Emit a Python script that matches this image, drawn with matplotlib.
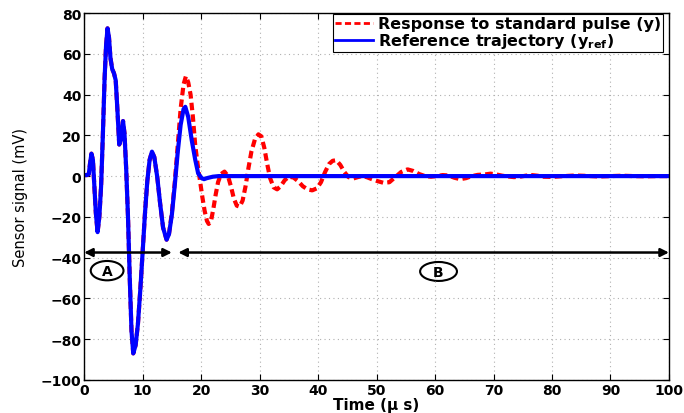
import numpy as np
import matplotlib
matplotlib.use("Agg")
import matplotlib.pyplot as plt
from matplotlib.patches import Ellipse
from matplotlib.lines import Line2D

# Reference trajectory (blue)
blue_t = [0, 0.5, 0.8, 1.0, 1.25, 1.5, 1.75, 2.0, 2.3, 2.6, 2.9, 3.2, 3.5, 3.75, 4.0,
          4.25, 4.5, 4.8, 5.1, 5.4, 5.7, 6.0, 6.3, 6.65, 6.9, 7.2, 7.5, 7.8, 8.1, 8.4,
          8.8, 9.2, 9.6, 10.0, 10.4, 10.8, 11.2, 11.6, 12.0, 12.5, 13.0, 13.5, 14.1,
          14.5, 15.0, 15.5, 16.0, 16.5, 17.0, 17.3, 17.8, 18.4, 19.0, 19.5, 20.1, 20.5,
          21.0, 22.0, 23.0, 100]
blue_v = [0.5, 0.5, 1, 6, 11, 8, -5, -18, -27.5, -20, -5, 20, 48, 64, 72.5,
          68, 58, 52.5, 50.5, 47, 32, 15.5, 18, 27, 21, 3, -20, -50, -76, -87,
          -83, -72.5, -56, -37.5, -18.5, -2.5, 8, 12, 9.3, -0.4, -13.6, -25.3, -31.2,
          -28.6, -19, -4.4, 11.6, 25.1, 32.9, 34, 29, 17.6, 8, 1.3, -1.0, -1.5,
          -1.0, -0.3, 0, 0]

# Response to standard pulse (red) - identical to blue up to 14.5 us, then:
red_tail_t = [15.0, 15.5, 16.0, 16.5, 17.0, 17.4, 17.8, 18.2, 18.6, 19.0, 19.4, 19.8,
              20.2, 20.6, 21.0, 21.3, 21.7, 22.1, 22.5, 22.9, 23.4, 24.0, 24.6, 25.1,
              25.6, 26.1, 26.6, 27.1, 27.6, 28.1, 28.6, 29.2, 29.8, 30.3, 30.8, 31.3,
              31.8, 32.4, 33.0, 33.6, 34.3, 35.0, 35.8, 36.6, 37.4, 38.2, 39.0, 39.8,
              40.5, 41.2, 41.9, 42.5, 43.1, 43.8, 44.5, 45.2, 46.0, 46.8, 47.5, 48.3,
              49.2, 50.2, 51.2, 52.2, 53.2, 54.2, 55.3, 56.3, 57.3, 58.3, 59.3, 60.3,
              61.3, 62.3, 63.3, 64.3, 65.3, 66.3, 67.3, 68.5, 69.5, 70.5, 71.5, 72.5,
              73.5, 74.5, 75.5, 76.5, 77.5, 78.5, 80, 82, 84, 86, 88, 90, 92, 94, 96,
              98, 100]
red_tail_v = [-18, -3, 15, 33, 45, 49, 46, 40, 29, 15, 6, -2,
              -10, -17, -22, -23.5, -22, -16, -9, -3, 1, 2.2, 0, -5,
              -11, -14.5, -15, -12, -5, 4, 12, 18, 20.5, 19.5, 14, 6,
              -1, -5.5, -6.5, -5, -2, -0.3, -0.7, -2.5, -5, -6.5, -7, -6,
              -3, 2, 6, 7.5, 7.8, 5.5, 2, -0.5, -1.2, -0.5, 0, -0.5,
              -1.5, -2.5, -3.3, -3, -0.5, 2, 3.3, 2.5, 1, 0, -0.3, 0,
              0.5, 0.3, -0.8, -1.5, -1, 0, 0.6, 0.8, 1.2, 0.8, 0.2, -0.2,
              -0.5, -0.3, 0.2, 0.5, 0.2, -0.3, -0.4, 0, 0.3, 0.1, -0.2, 0, 0.2,
              0, -0.1, 0, 0]
red_split = 14.5

x_ticks = [0, 10, 20, 30, 40, 50, 60, 70, 80, 90, 100]
y_ticks = [-100, -80, -60, -40, -20, 0, 20, 40, 60, 80]

label_red = "Response to standard pulse (y)"
label_blue = r"Reference trajectory (y$_{\mathbf{ref}}$)"

bt = np.array(blue_t)
bv = np.array(blue_v)
mask = bt <= red_split
red_t = np.concatenate([bt[mask], red_tail_t])
red_v = np.concatenate([bv[mask], red_tail_v])

plt.rcParams['font.family'] = ['DejaVu Sans']
plt.rcParams['mathtext.fontset'] = 'custom'
plt.rcParams['mathtext.rm'] = 'DejaVu Sans:bold'
plt.rcParams['mathtext.bf'] = 'DejaVu Sans:bold'
plt.rcParams['mathtext.it'] = 'DejaVu Sans:bold'

fig = plt.figure(figsize=(6.84, 4.14), dpi=100)
ax = fig.add_axes([0.123, 0.080, 0.855, 0.886])

ax.plot(red_t, red_v, color='#ff0000', lw=3.0, dashes=(1.8, 1.0),
        solid_capstyle='round', solid_joinstyle='round')
ax.plot(bt, bv, color='#0000ff', lw=3.0, solid_joinstyle='round')

ax.set_xlim(0, 100)
ax.set_ylim(-100, 80)
ax.set_xticks(x_ticks)
ax.set_yticks(y_ticks)
ax.tick_params(direction='in', top=True, right=True, length=4, width=0.8,
               labelsize=10, pad=2)
for lab in ax.get_xticklabels() + ax.get_yticklabels():
    lab.set_fontweight('bold')
ax.grid(True, color='#b0b0b0', linestyle=(0, (1, 3)), lw=0.8)
for sp in ax.spines.values():
    sp.set_color('black')
    sp.set_linewidth(1.0)

ax.set_xlabel("Time (\u03bc s)", fontsize=11, fontweight='bold', labelpad=0)
ax.set_ylabel("Sensor signal (mV)", fontsize=10.5, labelpad=9)

# region arrows
ax.annotate('', xy=(0, -37.5), xytext=(15.0, -37.5),
            arrowprops=dict(arrowstyle='<|-|>', color='black', lw=1.8,
                            mutation_scale=12, shrinkA=0, shrinkB=0),
            annotation_clip=False)
ax.annotate('', xy=(16.1, -37.5), xytext=(100, -37.5),
            arrowprops=dict(arrowstyle='<|-|>', color='black', lw=1.8,
                            mutation_scale=12, shrinkA=0, shrinkB=0),
            annotation_clip=False)

ax.add_patch(Ellipse((3.93, -46.4), 5.6, 9.5, fill=False, ec='black', lw=1.5))
ax.text(3.93, -46.6, 'A', ha='center', va='center', fontsize=10, fontweight='bold')
ax.add_patch(Ellipse((60.6, -46.8), 6.3, 9.3, fill=False, ec='black', lw=1.5))
ax.text(60.6, -47.0, 'B', ha='center', va='center', fontsize=10, fontweight='bold')

handles = [Line2D([], [], color='#ff0000', lw=2.0, dashes=(2.2, 1.2)),
           Line2D([], [], color='#0000ff', lw=2.0)]
leg = ax.legend(handles, [label_red, label_blue], loc='upper right',
                bbox_to_anchor=(0.99, 0.997), fancybox=False,
                framealpha=1, edgecolor='black',
                prop={'weight': 'bold', 'size': 11.5}, handlelength=2.4,
                borderaxespad=0.0, labelspacing=0.0, borderpad=0.12,
                handletextpad=0.3)
leg.get_frame().set_linewidth(0.8)

fig.savefig('out.png', dpi=100)
